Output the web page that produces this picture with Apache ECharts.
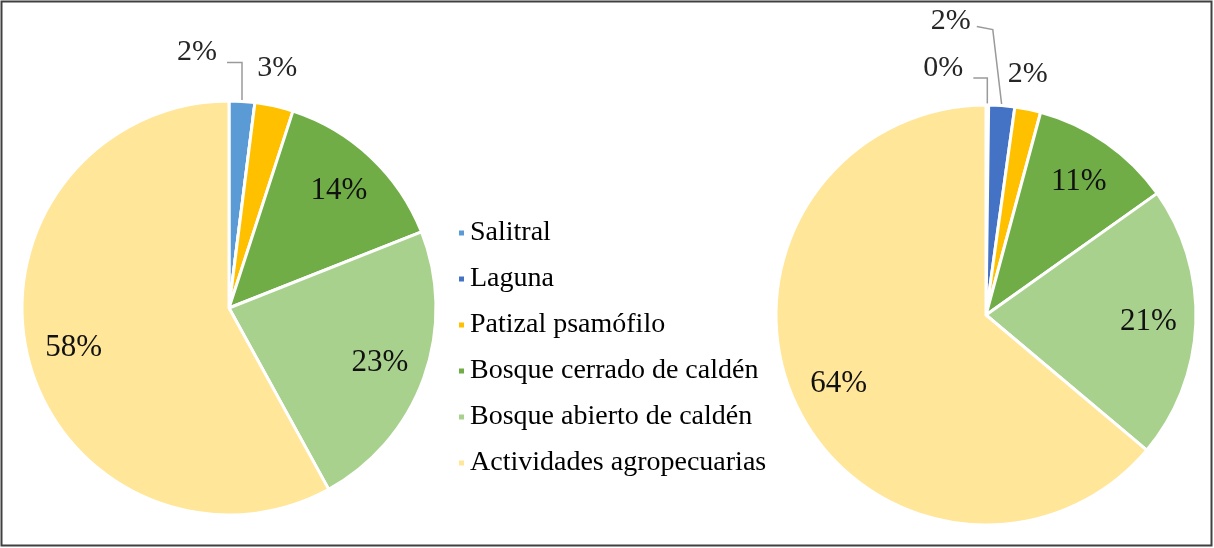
<!DOCTYPE html>
<html>
<head>
<meta charset="utf-8">
<script src="https://cdn.jsdelivr.net/npm/echarts@6/dist/echarts.min.js"></script>
<style>
  html, body { margin: 0; padding: 0; background: #fff; }
  #chart { width: 1214px; height: 548px; }
</style>
</head>
<body>
<div id="chart"></div>
<script>
// ---- data ----
const categories = ['Salitral', 'Laguna', 'Patizal psamófilo', 'Bosque cerrado de caldén', 'Bosque abierto de caldén', 'Actividades agropecuarias'];
const leftValues = [2, 0, 3, 14, 23, 58];
const rightValues = [0.2, 2, 2, 11, 21, 64];
const colors = ['#5B9BD5', '#4472C4', '#FFC000', '#70AD47', '#A9D18E', '#FFE699'];

// ---- style / layout config ----
const FONT = 'Liberation Serif';
const LEFT = { center: [229, 308], r: 207 };
const RIGHT = { center: [986, 315], r: 210 };
const insideNames = ['Bosque cerrado de caldén', 'Bosque abierto de caldén', 'Actividades agropecuarias'];
// outside label placement relative to the slice anchor point on the rim
const outsideCfg = {
  left: {
    'Salitral': { pts: [[0, -39], [-15, -39]], label: [-25, -49], align: 'right' },
    'Patizal psamófilo': { pts: null, label: [3, -38], align: 'center' }
  },
  right: {
    'Salitral': { pts: [[0, -27], [-14, -27]], label: [-24, -37], align: 'right' },
    'Laguna': { pts: [[-9, -76], [-25, -79]], label: [-31, -84], align: 'right' },
    'Patizal psamófilo': { pts: null, label: [0, -35], align: 'center' }
  }
};
const hiddenLabels = { left: ['Laguna'], right: [] };

function pct(p) { return Math.round(p.value) + '%'; }

function makeData(values, side) {
  return categories.map((name, i) => ({
    name: name,
    value: values[i],
    itemStyle: { color: colors[i] },
    label: { show: !!outsideCfg[side][name] && hiddenLabels[side].indexOf(name) < 0 },
    labelLine: { show: !!(outsideCfg[side][name] && outsideCfg[side][name].pts) }
  }));
}

function makeInsideData(values) {
  return categories.map((name, i) => ({
    name: name,
    value: values[i],
    label: { show: insideNames.indexOf(name) >= 0 }
  }));
}

function outsideLayout(side, seriesData) {
  return function (params) {
    const name = seriesData[params.dataIndex].name;
    const cfg = outsideCfg[side][name];
    if (!cfg || !params.labelLinePoints) return {};
    const a = params.labelLinePoints[0];
    const res = {
      x: a[0] + cfg.label[0],
      y: a[1] + cfg.label[1],
      align: cfg.align,
      verticalAlign: 'middle'
    };
    if (cfg.pts) {
      res.labelLinePoints = [a, [a[0] + cfg.pts[0][0], a[1] + cfg.pts[0][1]], [a[0] + cfg.pts[1][0], a[1] + cfg.pts[1][1]]];
    }
    return res;
  };
}

const leftData = makeData(leftValues, 'left');
const rightData = makeData(rightValues, 'right');

function pieSeries(pos, data, side) {
  return {
    type: 'pie',
    name: side,
    center: pos.center,
    radius: [0, pos.r],
    startAngle: 90,
    clockwise: true,
    avoidLabelOverlap: false,
    animation: false,
    data: data,
    itemStyle: { borderColor: '#ffffff', borderWidth: 3 },
    label: {
      position: 'outside',
      formatter: pct,
      fontFamily: FONT,
      fontSize: 30,
      color: '#262626'
    },
    labelLine: { length: 20, length2: 10, lineStyle: { color: '#9a9a9a', width: 1.5 } },
    labelLayout: outsideLayout(side, data),
    emphasis: { disabled: true }
  };
}

function insideSeries(pos, values) {
  return {
    type: 'pie',
    center: pos.center,
    radius: [Math.round(pos.r * 0.52), pos.r],
    startAngle: 90,
    clockwise: true,
    silent: true,
    animation: false,
    data: makeInsideData(values),
    itemStyle: { color: 'rgba(0,0,0,0)', borderWidth: 0 },
    label: {
      position: 'inside',
      formatter: pct,
      fontFamily: FONT,
      fontSize: 31,
      color: '#111111'
    },
    labelLine: { show: false },
    emphasis: { disabled: true },
    tooltip: { show: false }
  };
}

const chart = echarts.init(document.getElementById('chart'), null, { renderer: 'canvas' });
chart.setOption({
  backgroundColor: '#ffffff',
  animation: false,
  legend: {
    orient: 'vertical',
    left: 452,
    top: 214,
    itemWidth: 7,
    itemHeight: 7,
    itemGap: 18,
    icon: 'rect',
    selectedMode: false,
    data: categories.map((c, i) => ({ name: c, itemStyle: { color: colors[i] } })),
    textStyle: { fontFamily: FONT, fontSize: 28, color: '#000000' }
  },
  graphic: [{
    type: 'rect',
    shape: { x: 1.5, y: 1.5, width: 1210, height: 544 },
    style: { fill: null, stroke: '#404040', lineWidth: 2 },
    silent: true,
    z: 100
  }],
  series: [
    pieSeries(LEFT, leftData, 'left'),
    pieSeries(RIGHT, rightData, 'right'),
    insideSeries(LEFT, leftValues),
    insideSeries(RIGHT, rightValues)
  ]
});
</script>
</body>
</html>
